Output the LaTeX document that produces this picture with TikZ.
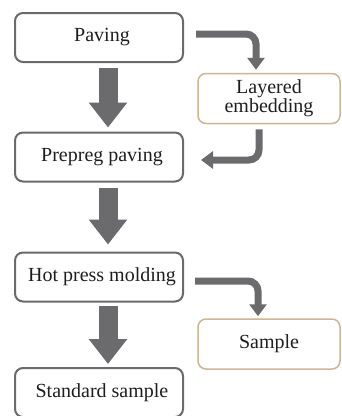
\documentclass[tikz,border=0pt]{standalone}
\usepackage{fontspec}
\setmainfont{Liberation Serif}
\usetikzlibrary{arrows.meta}
\definecolor{boxline}{HTML}{6A6A6C}
\definecolor{sideline}{HTML}{CDB596}
\definecolor{arrowgrey}{HTML}{6B6B6E}
\definecolor{txt}{HTML}{1E1E1E}
\tikzset{
  mainbox/.style={draw=boxline, line width=2pt, rounded corners=8pt, fill=white,
    minimum width=168pt, minimum height=49pt, inner sep=0pt, text=txt,
    font=\fontsize{20}{17.5}\selectfont, align=center},
  sidebox/.style={draw=sideline, line width=1.5pt, rounded corners=8pt, fill=white,
    minimum width=142pt, minimum height=50pt, inner sep=0pt, text=txt,
    font=\fontsize{20}{17.5}\selectfont, align=center},
  bigarrow/.style={draw=arrowgrey, line width=19pt,
    -{Triangle[width=37pt,length=25pt]}},
  bendarrow/.style={draw=arrowgrey, line width=7pt, rounded corners=10pt,
    -{Triangle[width=17pt,length=12pt]}}
}
\begin{document}
\begin{tikzpicture}[x=1pt,y=-1pt]
\useasboundingbox (0,0) rectangle (341,416);
\begin{scope}
\clip (0,0) rectangle (341,416);
% process steps
\node[mainbox] (paving)   at (99,37.5)  {\hspace*{6pt}Paving};
\node[mainbox] (prepreg)  at (99,157)   {\hspace*{6pt}Prepreg paving};
\node[mainbox] (hot)      at (99,277)   {\hspace*{6pt}Hot press molding};
\node[mainbox] (standard) at (99,392.5) {\hspace*{6pt}Standard sample};
\node[sidebox] (layer)    at (269,98.5) {Layered\\embedding};
\node[sidebox] (sample)   at (269,344)  {Sample};

% main flow
\draw[bigarrow, shorten <=5pt, shorten >=4pt]
  ([xshift=9pt]paving.south) -- ([xshift=9pt]prepreg.north);
\draw[bigarrow, shorten <=5pt, shorten >=7pt]
  ([xshift=9pt]prepreg.south) -- ([xshift=9pt]hot.north);
\draw[bigarrow, shorten <=3pt, shorten >=3pt]
  ([xshift=9pt]hot.south) -- ([xshift=9pt]standard.north);

% side branches
\draw[bendarrow, shorten <=12pt, shorten >=3pt]
  ([yshift=3.5pt]paving.east) -| ([xshift=-13pt]layer.north);
\draw[bendarrow, shorten <=5pt, shorten >=17pt]
  ([xshift=-10pt]layer.south) |- ([yshift=-3pt]prepreg.east);
\draw[bendarrow, shorten <=11pt, shorten >=2pt]
  ([yshift=-4pt]hot.east) -| ([xshift=-11pt]sample.north);
\end{scope}
\end{tikzpicture}
\end{document}
